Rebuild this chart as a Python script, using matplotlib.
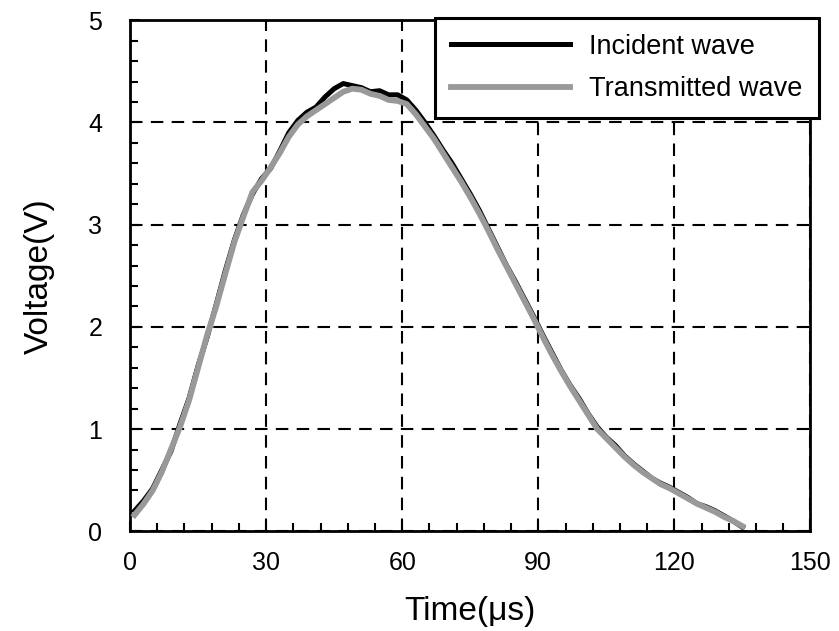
import numpy as np
import matplotlib.pyplot as plt
from matplotlib.ticker import MultipleLocator

# time in microseconds (sample points)
time_us = np.arange(1, 137, 2)

incident = [0.20, 0.30, 0.42, 0.60, 0.78, 1.05, 1.30, 1.62, 1.90, 2.22,
            2.55, 2.85, 3.10, 3.30, 3.45, 3.55, 3.72, 3.90, 4.02, 4.10,
            4.15, 4.25, 4.33, 4.38, 4.36, 4.34, 4.30, 4.31, 4.27, 4.27,
            4.22, 4.12, 4.00, 3.87, 3.73, 3.60, 3.45, 3.30, 3.14, 2.96,
            2.78, 2.60, 2.44, 2.27, 2.10, 1.92, 1.75, 1.58, 1.43, 1.30,
            1.15, 1.02, 0.92, 0.84, 0.74, 0.66, 0.59, 0.52, 0.47, 0.43,
            0.38, 0.33, 0.27, 0.24, 0.20, 0.15, 0.10, 0.04]

transmitted = [0.16, 0.27, 0.40, 0.58, 0.80, 1.02, 1.28, 1.60, 1.92, 2.20,
               2.52, 2.83, 3.08, 3.32, 3.43, 3.56, 3.70, 3.86, 3.98, 4.06,
               4.12, 4.18, 4.24, 4.30, 4.33, 4.32, 4.28, 4.26, 4.22, 4.21,
               4.18, 4.08, 3.96, 3.84, 3.70, 3.56, 3.42, 3.27, 3.11, 2.94,
               2.76, 2.59, 2.42, 2.25, 2.08, 1.90, 1.73, 1.57, 1.42, 1.28,
               1.14, 1.00, 0.91, 0.82, 0.73, 0.65, 0.58, 0.52, 0.46, 0.42,
               0.37, 0.32, 0.27, 0.23, 0.19, 0.14, 0.10, 0.05]

plt.rcParams['font.family'] = ['Liberation Sans', 'DejaVu Sans']

fig = plt.figure(figsize=(8.39, 6.31), dpi=100)
ax = fig.add_axes([0.155, 0.158, 0.811, 0.81])

ax.plot(time_us, incident, color='black', lw=3.6, label='Incident wave', zorder=3)
ax.plot(time_us, transmitted, color='#999999', lw=4.2, label='Transmitted wave', zorder=4)

ax.set_xlim(0, 150)
ax.set_ylim(0, 5)
ax.xaxis.set_major_locator(MultipleLocator(30))
ax.xaxis.set_minor_locator(MultipleLocator(6))
ax.yaxis.set_major_locator(MultipleLocator(1))
ax.yaxis.set_minor_locator(MultipleLocator(0.2))
ax.tick_params(which='both', direction='in', width=1.5, labelsize=18)
ax.tick_params(axis='x', pad=14)
ax.tick_params(axis='y', pad=20)
ax.tick_params(which='major', length=7)
ax.tick_params(which='minor', length=6)

ax.grid(which='major', color='black', linestyle=(0, (6, 4)), lw=1.5, zorder=1)
for s in ax.spines.values():
    s.set_linewidth(2)

ax.set_xlabel('Time(μs)', fontsize=24, labelpad=15)
ax.set_ylabel('Voltage(V)', fontsize=24, labelpad=24)

leg = ax.legend(loc='upper right', bbox_to_anchor=(1.012, 1.005), fontsize=19.5,
                fancybox=False, framealpha=1, edgecolor='black',
                handlelength=4.4, handletextpad=0.7, borderpad=0.6,
                labelspacing=0.6, borderaxespad=0)
leg.get_frame().set_linewidth(2.2)
leg.set_zorder(5)

plt.savefig('out.png', dpi=100)
